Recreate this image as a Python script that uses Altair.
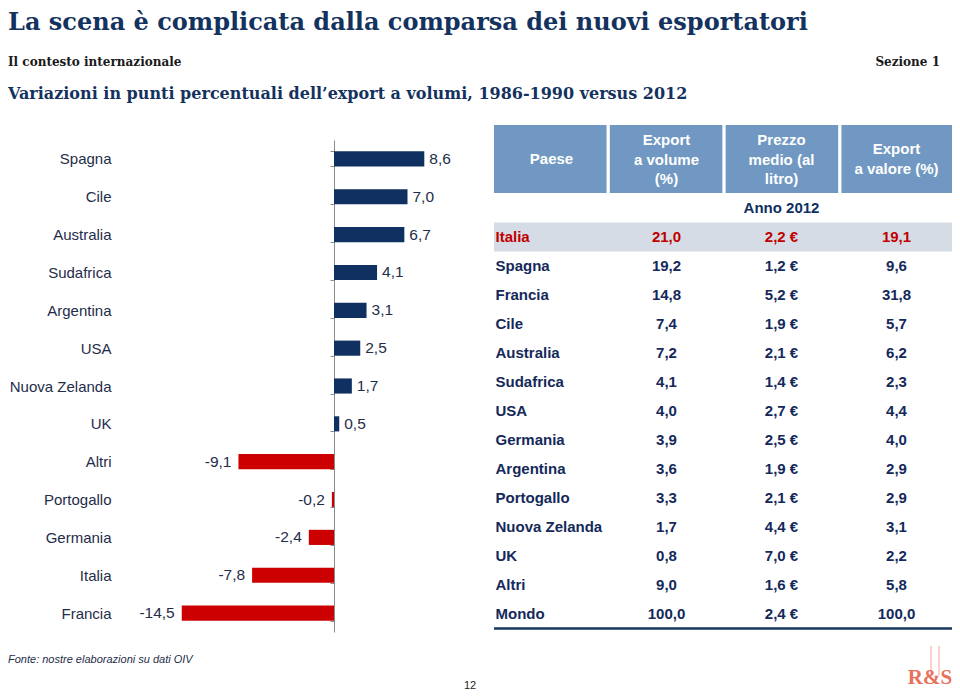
import altair as alt
import pandas as pd

# ---------------- data ----------------
paesi_var = ["Spagna", "Cile", "Australia", "Sudafrica", "Argentina", "USA",
             "Nuova Zelanda", "UK", "Altri", "Portogallo", "Germania", "Italia", "Francia"]
variazioni = [8.6, 7.0, 6.7, 4.1, 3.1, 2.5, 1.7, 0.5, -9.1, -0.2, -2.4, -7.8, -14.5]

paesi_tab = ["Italia", "Spagna", "Francia", "Cile", "Australia", "Sudafrica", "USA",
             "Germania", "Argentina", "Portogallo", "Nuova Zelanda", "UK", "Altri", "Mondo"]
export_volume = [21.0, 19.2, 14.8, 7.4, 7.2, 4.1, 4.0, 3.9, 3.6, 3.3, 1.7, 0.8, 9.0, 100.0]
prezzo_medio = [2.2, 1.2, 5.2, 1.9, 2.1, 1.4, 2.7, 2.5, 1.9, 2.1, 4.4, 7.0, 1.6, 2.4]
export_valore = [19.1, 9.6, 31.8, 5.7, 6.2, 2.3, 4.4, 4.0, 2.9, 2.9, 3.1, 2.2, 5.8, 100.0]

col_keys = ["paese", "volume", "prezzo", "valore"]
header_lines = [["Paese"], ["Export", "a volume", "(%)"], ["Prezzo", "medio (al", "litro)"],
                ["Export", "a valore (%)"]]

title_text = "La scena è complicata dalla comparsa dei nuovi esportatori"
section_text = "Il contesto internazionale"
section_num = "Sezione 1"
subtitle_text = "Variazioni in punti percentuali dell’export a volumi, 1986-1990 versus 2012"
source_text = "Fonte: nostre elaborazioni su dati OIV"
page_num = "12"
anno_text = "Anno 2012"
highlight = "Italia"

# ---------------- styles ----------------
NAVY = "#0f3061"
RED = "#cc0000"
TXT = "#1f2d4a"
HEAD = "#7098c2"
SANS = "Liberation Sans"
SERIF = "DejaVu Serif"


def fmt(v):
    return f"{v:.1f}".replace(".", ",")


bars_df = pd.DataFrame({"paese": paesi_var, "var": variazioni})
bars_df["label"] = bars_df["var"].map(fmt)
bars_df["segno"] = ["pos" if v >= 0 else "neg" for v in variazioni]

rows = []
for i, p in enumerate(paesi_tab):
    evid = "si" if p == highlight else "no"
    rows.append({"riga": i, "col": "paese", "t": p, "evid": evid})
    rows.append({"riga": i, "col": "volume", "t": fmt(export_volume[i]), "evid": evid})
    rows.append({"riga": i, "col": "prezzo", "t": fmt(prezzo_medio[i]) + " €", "evid": evid})
    rows.append({"riga": i, "col": "valore", "t": fmt(export_valore[i]), "evid": evid})
tab_df = pd.DataFrame(rows)
head_df = pd.DataFrame({"col": col_keys, "lines": header_lines,
                        "n": [len(h) for h in header_lines]})
anno_df = pd.DataFrame({"col": ["prezzo"], "riga": [-1], "t": [anno_text]})
hl_df = pd.DataFrame({"riga": [paesi_tab.index(highlight)]})
end_df = pd.DataFrame({"riga": [len(paesi_tab) - 0.5]})
one = pd.DataFrame({"a": [0]})

# ---------------- scales ----------------
xs = alt.Scale(domain=[-15, 10], range=[168.5, 431])
ys = alt.Scale(domain=paesi_var, range=[132, 624], paddingInner=0.6, paddingOuter=0.3)
tx = alt.Scale(domain=col_keys, range=[486, 946], paddingInner=0.028, paddingOuter=0)
ty = alt.Scale(domain=[0, 13], range=[229, 606])

# ---------------- bar chart ----------------
bars = alt.Chart(bars_df).mark_bar().encode(
    x=alt.X("var:Q", scale=xs, axis=None),
    y=alt.Y("paese:N", scale=ys, sort=None,
            axis=alt.Axis(title=None, orient="left", offset=-326, domainColor="#8c8c8c",
                          tickColor="#8c8c8c", tickSize=4, tickBand="extent",
                          labelPadding=219, labelFontSize=15, labelFont=SANS,
                          labelColor=TXT, grid=False)),
    color=alt.Color("segno:N", scale=alt.Scale(domain=["pos", "neg"], range=[NAVY, RED]),
                    legend=None),
)
lab_pos = alt.Chart(bars_df).transform_filter("datum.var >= 0").mark_text(
    align="left", dx=5, baseline="middle", font=SANS, fontSize=15.5, color=TXT
).encode(x=alt.X("var:Q", scale=xs, axis=None),
         y=alt.Y("paese:N", scale=ys, sort=None, axis=None), text="label:N")
lab_neg = alt.Chart(bars_df).transform_filter("datum.var < 0").mark_text(
    align="right", dx=-7, baseline="middle", font=SANS, fontSize=15.5, color=TXT
).encode(x=alt.X("var:Q", scale=xs, axis=None),
         y=alt.Y("paese:N", scale=ys, sort=None, axis=None), text="label:N")

# ---------------- table ----------------
head_rect = alt.Chart(head_df).mark_rect(color=HEAD).encode(
    x=alt.X("col:N", scale=tx, sort=None, axis=None),
    y=alt.value(117), y2=alt.value(185))


def head_txt(n, y):
    return alt.Chart(head_df).transform_filter(f"datum.n == {n}").mark_text(
        font=SANS, fontSize=15, fontWeight="bold", color="white", baseline="middle",
        lineHeight=19.5
    ).encode(x=alt.X("col:N", scale=tx, sort=None, axis=None), y=alt.value(y),
             text="lines:N")


head1 = head_txt(1, 151)
head2 = head_txt(2, 141)
head3 = head_txt(3, 132)
hl_rule = alt.Chart(hl_df).mark_rule(color="#d5dce6", strokeWidth=29, strokeCap="butt").encode(
    x=alt.value(486), x2=alt.value(946), y=alt.Y("riga:Q", scale=ty, axis=None))
anno = alt.Chart(anno_df).mark_text(
    font=SANS, fontSize=15, fontWeight="bold", color=NAVY, baseline="middle"
).encode(x=alt.X("col:N", scale=tx, sort=None, axis=None),
         y=alt.Y("riga:Q", scale=ty, axis=None), text="t:N")
tcolor = alt.Color("evid:N", scale=alt.Scale(domain=["si", "no"], range=["#c00000", "#14295a"]),
                   legend=None)
tab_names = alt.Chart(tab_df).transform_filter("datum.col == 'paese'").mark_text(
    font=SANS, fontSize=15, fontWeight="bold", align="left", baseline="middle", dx=-56
).encode(x=alt.X("col:N", scale=tx, sort=None, axis=None),
         y=alt.Y("riga:Q", scale=ty, axis=None), text="t:N", color=tcolor)
tab_vals = alt.Chart(tab_df).transform_filter("datum.col != 'paese'").mark_text(
    font=SANS, fontSize=15, fontWeight="bold", align="center", baseline="middle"
).encode(x=alt.X("col:N", scale=tx, sort=None, axis=None),
         y=alt.Y("riga:Q", scale=ty, axis=None), text="t:N", color=tcolor)
end_rule = alt.Chart(end_df).mark_rule(color="#17375e", strokeWidth=2.5).encode(
    x=alt.value(486), x2=alt.value(946), y=alt.Y("riga:Q", scale=ty, axis=None))


# ---------------- page texts ----------------
def txt(s, x, y, **kw):
    return alt.Chart(one).mark_text(**kw).encode(x=alt.value(x), y=alt.value(y), text=alt.value(s))


title = txt(title_text, 0, 3, font=SERIF, fontSize=24, fontWeight="bold", color="#14325e",
            align="left", baseline="top")
section = txt(section_text, 0, 57.5, font=SERIF, fontSize=12, fontWeight="bold", color="#1a1a1a",
              align="left", baseline="alphabetic")
sect_n = txt(section_num, 932, 57.5, font=SERIF, fontSize=12, fontWeight="bold", color="#1a1a1a",
             align="right", baseline="alphabetic")
subtitle = txt(subtitle_text, 0, 91, font=SERIF, fontSize=16, fontWeight="bold", color="#14325e",
               align="left", baseline="alphabetic")
source = txt(source_text, 0, 652, font=SANS, fontSize=11, fontStyle="italic", color="#1f2d4a",
             align="left", baseline="middle")
pnum = txt(page_num, 462, 678, font=SANS, fontSize=11, color="#222222", align="center",
           baseline="middle")
logo = txt("R&S", 922, 670, font="Liberation Serif", fontSize=21, fontWeight="bold",
           color="#e8715c", align="center", baseline="middle")
logo_l1 = alt.Chart(one).mark_rule(color="#f1a796", strokeWidth=1).encode(
    x=alt.value(923), y=alt.value(638), y2=alt.value(667))
logo_l2 = alt.Chart(one).mark_rule(color="#f1a796", strokeWidth=1).encode(
    x=alt.value(931), y=alt.value(638), y2=alt.value(667))

chart = alt.layer(
    bars, lab_pos, lab_neg,
    head_rect, head1, head2, head3, hl_rule, anno, tab_names, tab_vals, end_rule,
    title, section, sect_n, subtitle, source, pnum, logo_l1, logo_l2, logo,
).resolve_scale(x="independent", y="independent", color="independent").properties(
    width=944, height=684, padding=0, autosize=alt.AutoSizeParams(type="none"),
).configure_view(stroke=None)

chart.save("out.html", embed_options={"renderer": "svg", "actions": False})
